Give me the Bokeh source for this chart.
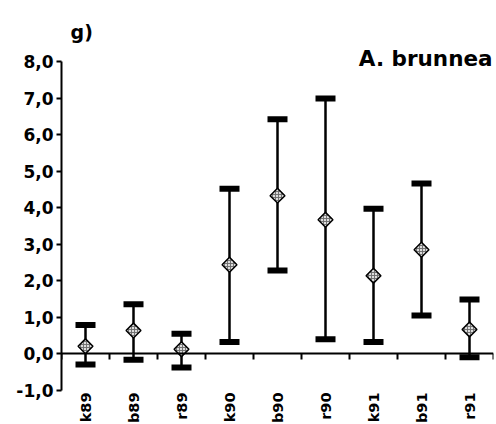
import math

from bokeh.plotting import figure
from bokeh.models import ColumnDataSource, Whisker, TeeHead, FixedTicker, Range1d
from bokeh.core.properties import value
from bokeh.embed import file_html
from bokeh.resources import INLINE

# Sample groups (site letter + year) and their means with interval bounds
groups = ["k89", "b89", "r89", "k90", "b90", "r90", "k91", "b91", "r91"]
means = [0.21, 0.64, 0.13, 2.44, 4.33, 3.67, 2.14, 2.85, 0.67]
lowers = [-0.29, -0.16, -0.37, 0.33, 2.28, 0.40, 0.33, 1.05, -0.09]
uppers = [0.79, 1.36, 0.55, 4.52, 6.42, 6.99, 3.97, 4.66, 1.49]

y_ticks = [-1, 0, 1, 2, 3, 4, 5, 6, 7, 8]
y_tick_labels = ["-1,0", "0,0", "1,0", "2,0", "3,0", "4,0", "5,0", "6,0", "7,0", "8,0"]

panel_label = "g)"
species = "A. brunnea"

FONT = "DejaVu Sans"

xs = [i + 0.5 for i in range(len(groups))]
src = ColumnDataSource(dict(x=xs, mean=means, lower=lowers, upper=uppers, name=groups))

p = figure(
    width=496, height=424,
    x_range=Range1d(0, len(groups)),
    y_range=Range1d(-1.93, 9.669),
    output_backend="svg", toolbar_location=None,
    min_border_left=61, min_border_right=3, min_border_top=0, min_border_bottom=0,
)
p.outline_line_color = None
p.grid.visible = False
p.background_fill_color = "white"
p.border_fill_color = "white"

# y axis: line only over the tick span, comma decimals
yax = p.yaxis[0]
yax.ticker = FixedTicker(ticks=y_ticks)
yax.major_label_overrides = {t: s for t, s in zip(y_ticks, y_tick_labels)}
yax.bounds = (y_ticks[0], y_ticks[-1])
yax.axis_line_width = 2
yax.axis_line_color = "black"
yax.major_tick_line_width = 2
yax.major_tick_in = 0
yax.major_tick_out = 5
yax.minor_tick_line_color = None
yax.major_label_standoff = 3
yax.major_label_text_font = FONT
yax.major_label_text_font_style = "bold"
yax.major_label_text_font_size = "17px"
yax.major_label_text_color = "black"

# x axis drawn through zero, ticks at group boundaries
xax = p.xaxis[0]
xax.fixed_location = 0
xax.ticker = FixedTicker(ticks=list(range(len(groups) + 1)))
xax.bounds = (0, len(groups))
xax.axis_line_width = 2
xax.major_tick_line_width = 2
xax.major_tick_in = 0
xax.major_tick_out = 6
xax.minor_tick_line_color = None
xax.major_label_text_color = None
xax.major_label_text_font_size = "0px"

# interval bars with thick caps
whisk = Whisker(
    source=src, base="x", lower="lower", upper="upper", dimension="height",
    line_width=2.5, line_color="black",
    lower_head=TeeHead(size=20, line_width=6, line_color="black"),
    upper_head=TeeHead(size=20, line_width=6, line_color="black"),
)
p.add_layout(whisk)

# mean markers: checkered grey diamonds
p.scatter(
    "x", "mean", source=src, marker="square", angle=math.pi / 4, size=10.5,
    fill_color="#dcdcdc", line_color="black", line_width=1.5,
    hatch_pattern="cross", hatch_color="#6a6a6a", hatch_scale=3, hatch_weight=0.9,
)

# group names under the plot, rotated
p.text(
    "x", value(y_ticks[0]), text="name", source=src, angle=math.pi / 2,
    text_align="right", text_baseline="middle", y_offset=2,
    text_font=value(FONT), text_font_style="bold", text_font_size="14.5px", text_color="black",
)

p.text(
    [0.19], [8.82], text=[panel_label],
    text_font=value(FONT), text_font_style="bold", text_font_size="19px", text_color="black",
    text_align="left", text_baseline="alphabetic",
)
p.text(
    [8.98], [8.08], text=[species],
    text_font=value(FONT), text_font_style="bold", text_font_size="21.5px", text_color="black",
    text_align="right", text_baseline="alphabetic",
)

open("out.html", "w").write(file_html(p, INLINE))
